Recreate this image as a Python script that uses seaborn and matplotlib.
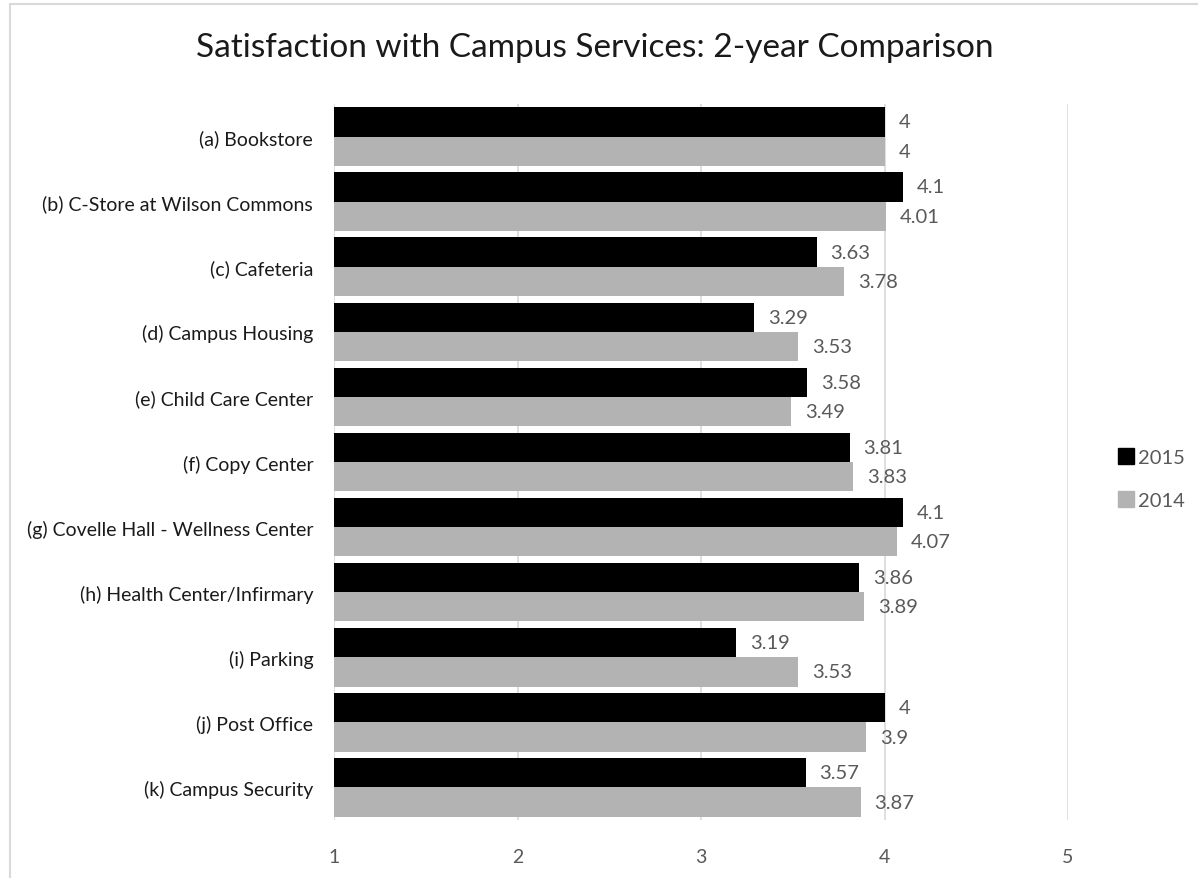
import pandas as pd
import numpy as np
import matplotlib.pyplot as plt
import seaborn as sns
from matplotlib.lines import Line2D

## Data
services = ['(a) Bookstore', '(b) C-Store at Wilson Commons', '(c) Cafeteria',
            '(d) Campus Housing', '(e) Child Care Center', '(f) Copy Center',
            '(g) Covelle Hall - Wellness Center', '(h) Health Center/Infirmary',
            '(i) Parking', '(j) Post Office', '(k) Campus Security']
sat_2015 = [4, 4.1, 3.63, 3.29, 3.58, 3.81, 4.1, 3.86, 3.19, 4, 3.57]
sat_2014 = [4, 4.01, 3.78, 3.53, 3.49, 3.83, 4.07, 3.89, 3.53, 3.9, 3.87]
years = ['2015', '2014']

df = pd.DataFrame({
    'Service': services * 2,
    'Score': sat_2015 + sat_2014,
    'Year': ['2015'] * len(services) + ['2014'] * len(services),
})

sns.set_style('white')
plt.rcParams['font.family'] = ['Lato', 'DejaVu Sans']

fig = plt.figure(figsize=(11.98, 8.79), dpi=100)
ax = fig.add_axes([334 / 1198, 1 - 821 / 879, (1068 - 334) / 1198, (821 - 105) / 879])

sns.barplot(data=df, y='Service', x='Score', hue='Year', hue_order=years,
            palette={'2015': '#000000', '2014': '#b3b3b3'}, width=0.9,
            orient='h', ax=ax, legend=False, saturation=1, linewidth=0)

for cont in ax.containers:
    ax.bar_label(cont, labels=[f'{v:g}' for v in cont.datavalues], padding=10,
                 fontsize=14.5, color='#595959')

ax.set_xlim(1, 5)
ax.set_xticks([1, 2, 3, 4, 5])
ax.grid(axis='x', color='#d9d9d9', linewidth=1.2)
ax.set_axisbelow(True)
for s in ax.spines.values():
    s.set_visible(False)
ax.tick_params(axis='x', length=0, pad=20, labelsize=14, labelcolor='#595959')
ax.tick_params(axis='y', length=0, pad=15, labelsize=14, labelcolor='#1a1a1a')
ax.set_xlabel('')
ax.set_ylabel('')

fig.suptitle('Satisfaction with Campus Services: 2-year Comparison',
             x=595 / 1198, y=1 - 33 / 879, fontsize=24, color='#1a1a1a', va='top')

# legend
handles = [Line2D([], [], marker='s', linestyle='', markersize=11,
                  color=c) for c in ['#000000', '#b3b3b3']]
fig.legend(handles, years, loc='center left', bbox_to_anchor=(1098 / 1198, 1 - 480 / 879),
           frameon=False, fontsize=14.5, labelcolor='#595959', handletextpad=0.1,
           labelspacing=1.3, handlelength=1.0)

# chart frame
fig.add_artist(Line2D([10 / 1198, 1], [1 - 5 / 879, 1 - 5 / 879], color='#d9d9d9', lw=1.5))
fig.add_artist(Line2D([10 / 1198, 10 / 1198], [0, 1 - 5 / 879], color='#d9d9d9', lw=1.5))

fig.savefig('out.png', dpi=100)
